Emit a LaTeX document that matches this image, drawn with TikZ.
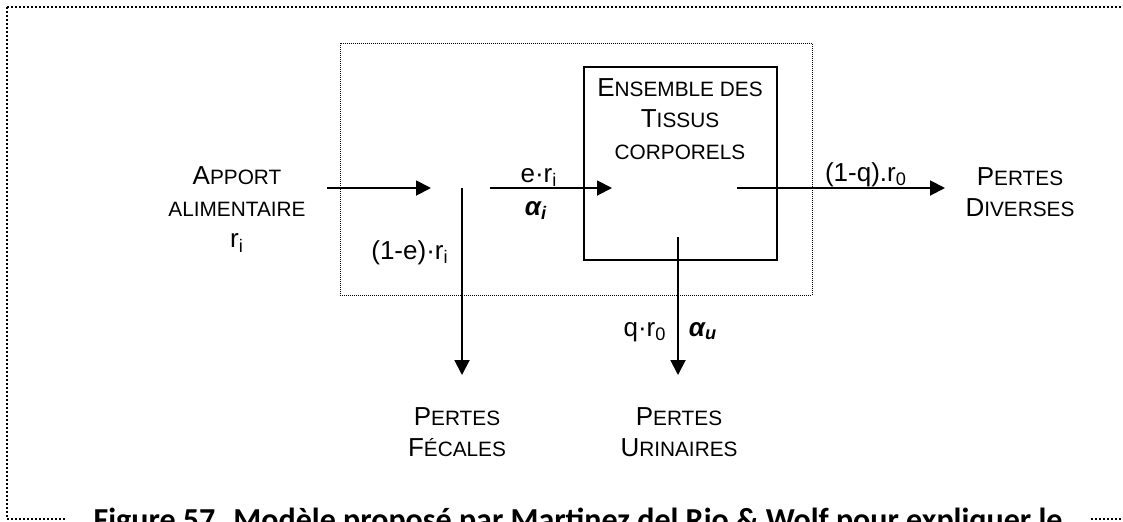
\documentclass[tikz,border=0pt]{standalone}
\usepackage{fontspec}
\setmainfont{Liberation Sans}
\newfontfamily\capfont{Carlito}
\usetikzlibrary{arrows.meta,positioning}

% fake small caps: smaller upper case letters
\newcommand\sm[1]{{\fontsize{10.4}{12}\selectfont #1}}

\begin{document}
\begin{tikzpicture}[
  x=0.5pt, y=-0.5pt,
  font=\fontsize{13}{15.75}\selectfont,
  lbl/.style={align=center, inner sep=0pt},
  txt/.style={anchor=base, inner sep=0pt},
  frame/.style={line width=1pt, dash pattern=on 1pt off 1pt},
  zone/.style={line width=0.5pt, dash pattern=on 0.5pt off 0.5pt},
  box/.style={draw, line width=0.95pt},
  arr/.style={-{Triangle[length=7.5pt,width=7.5pt]}, line width=0.95pt}
]
\useasboundingbox (0,0) rectangle (1123,521);
\clip (0,0) rectangle (1123,521);
\draw[frame] (7,7) rectangle (1126,519);
\draw[zone] (340,43) rectangle (812,295);
\draw[box] (584,67) rectangle (777,260);
\node[lbl] (apport) at (237,210) {A\sm{PPORT}\\\sm{ALIMENTAIRE}\\r\textsubscript{i}};
\node[lbl] (tissus) at (680,119) {E\sm{NSEMBLE DES}\\T\sm{ISSUS}\\\sm{CORPORELS}};
\node[lbl] (divers) at (1020,192) {P\sm{ERTES}\\D\sm{IVERSES}};
\node[lbl] (fecales) at (457,432) {P\sm{ERTES}\\F\sm{ÉCALES}};
\node[lbl] (urine) at (679,432) {P\sm{ERTES}\\U\sm{RINAIRES}};
% flows
\coordinate (feed) at (327,188);
\coordinate (gut) at (431,188);
\coordinate (split) at (462,188);
\coordinate (absorb) at (490,188);
\coordinate (tin) at (612,188);
\coordinate (tout) at (737,188);
\coordinate (misc) at (945,188);
\coordinate (fout) at (462,375);
\coordinate (utop) at (678,237);
\coordinate (uout) at (678,375);
\draw[arr] (feed) -- (gut);
\draw[arr] (absorb) -- (tin);
\draw[arr] (tout) -- (misc);
\draw[arr] (split) -- (fout);
\draw[arr] (utop) -- (uout);
\node[txt] (er) at (539,182) {e·r\textsubscript{i}};
\node[txt] (ai) at (536,215) {\bfseries\itshape α\textsubscript{i}};
\node[txt] (ler) at (410,259) {(1-e)·r\textsubscript{i}};
\node[txt] (lqr) at (866,181) {(1-q).r\textsubscript{0}};
\node[txt] (qr) at (645,336) {q·r\textsubscript{0}};
\node[txt] (au) at (703,336) {\bfseries\itshape α\textsubscript{u}};
\node[fill=white, inner xsep=14pt, inner ysep=2pt, anchor=base,
  font=\capfont\bfseries\fontsize{16}{19}\selectfont] (cap) at (578,530)
  {Figure 57. Modèle proposé par Martinez del Rio \& Wolf pour expliquer le};
\end{tikzpicture}
\end{document}
